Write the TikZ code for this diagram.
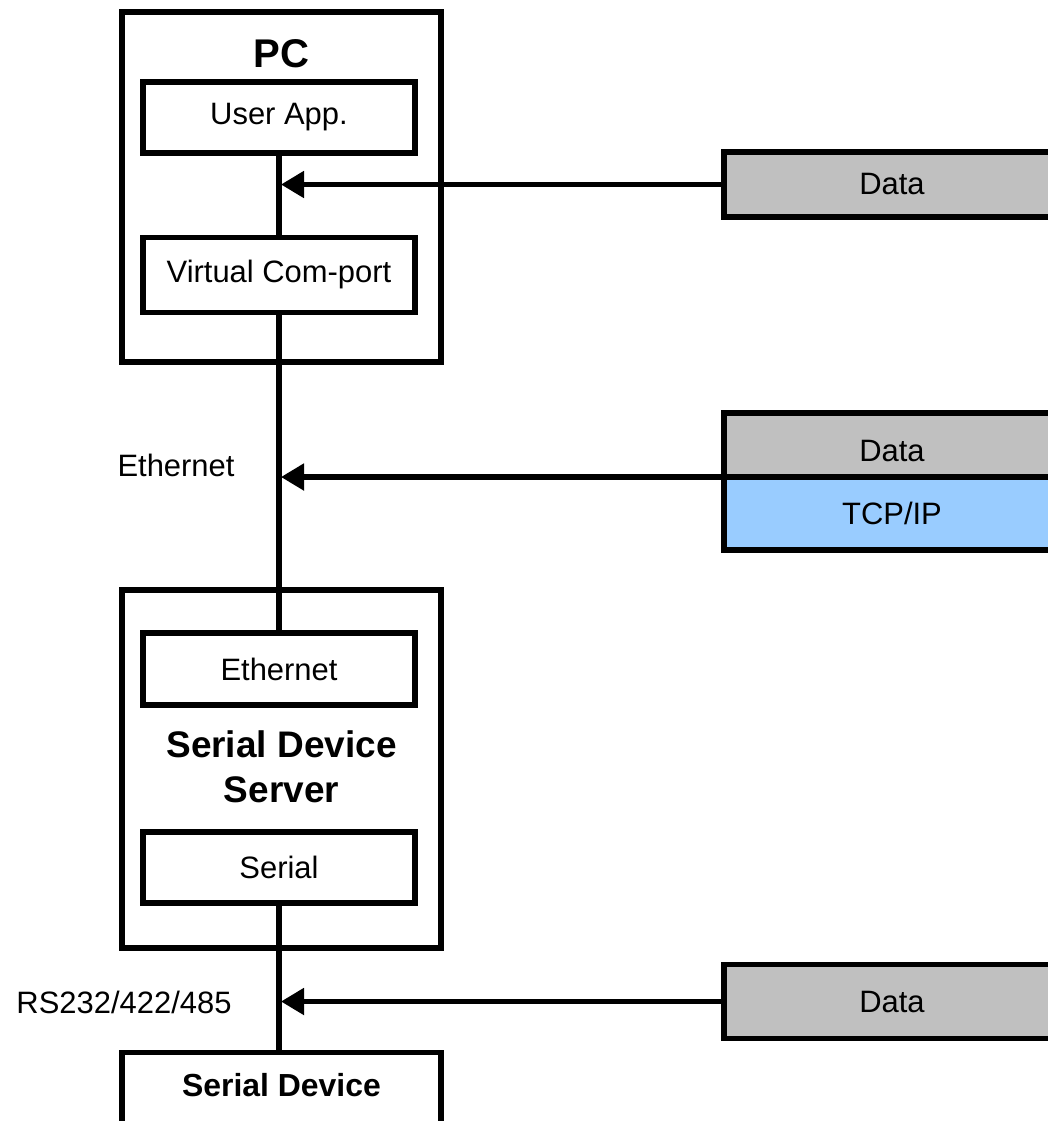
\documentclass[tikz,border=0pt]{standalone}
\usepackage{fontspec}
\setmainfont{Liberation Sans}
\usepackage{tikz}
\usetikzlibrary{arrows.meta, positioning}
\definecolor{datagray}{RGB}{192, 192, 192}
\definecolor{tcpblue}{RGB}{153, 204, 255}

\begin{document}
\begin{tikzpicture}[x=0.025cm, y=-0.025cm,
                unit/.style={draw, line width=3.8pt, minimum width=7.975cm},
                layer/.style={draw, line width=3.8pt, minimum width=6.8cm,
                              font=\fontsize{22}{26}\selectfont},
                packet/.style={draw, line width=3.8pt, fill=datagray, outer sep=0pt,
                               minimum width=8.4cm, font=\fontsize{22}{26}\selectfont},
                side/.style={font=\fontsize{22}{26}\selectfont},
                bus/.style={line width=3.8pt},
                feed/.style={line width=3.6pt, -{Triangle[length=0.575cm, width=0.65cm]}}]
                \useasboundingbox (0,0) rectangle (1048,1121);

                \node[unit, minimum height=8.75cm] (pc) at (281.5,187) {};
                \node[font=\bfseries\fontsize{28.5}{32}\selectfont] (pctitle) at (281.5,54) {PC};
                \node[layer, minimum height=1.775cm] (app) at (279,117.5) {User App.};
                \node[layer, minimum height=1.875cm, below=1.975cm of app] (vcp) {Virtual Com-port};

                \node[unit, minimum height=8.95cm] (sds) at (281.5,769) {};
                \node[layer, minimum height=1.8cm] (eth) at (279,669) {Ethernet};
                \node[font=\bfseries\fontsize{26.3}{32}\selectfont, align=center]
                      (sdstitle) at (281.5,767) {Serial Device\\Server};
                \node[layer, minimum height=1.775cm] (ser) at (279,867.5) {Serial};

                \node[unit, anchor=north, inner ysep=0pt, text height=31.5pt, text depth=3cm,
                      font=\bfseries\fontsize{22.7}{26}\selectfont]
                      (sdev) at (281.5,1049.5) {Serial Device};

                \node[packet, minimum height=1.625cm] (data1) at (892,184.5) {Data};
                \node[packet, minimum height=1.6cm, text height=24pt, text depth=0pt]
                      (data2) at (892,445) {Data};
                \node[packet, fill=tcpblue, minimum height=1.825cm, below=0pt of data2] (tcp) {TCP/IP};
                \node[packet, minimum height=1.85cm] (data3) at (892,1001.5) {Data};

                \node[side] (ethlabel) at (176,465) {Ethernet};
                \node[side] (rslabel) at (124,1002) {RS232/422/485};

                \coordinate (busline) at (281,0);

                \draw[bus] (app) -- (vcp);
                \draw[bus] (vcp) -- (eth);
                \draw[bus] (ser.south) -- (ser.south |- sdev.north);

                \draw[feed] (data1.west) -- (data1.west -| busline);
                \draw[feed] (data2.south west) -- (data2.south west -| busline);
                \draw[feed] (data3.west) -- (data3.west -| busline);
            \end{tikzpicture}
\end{document}
